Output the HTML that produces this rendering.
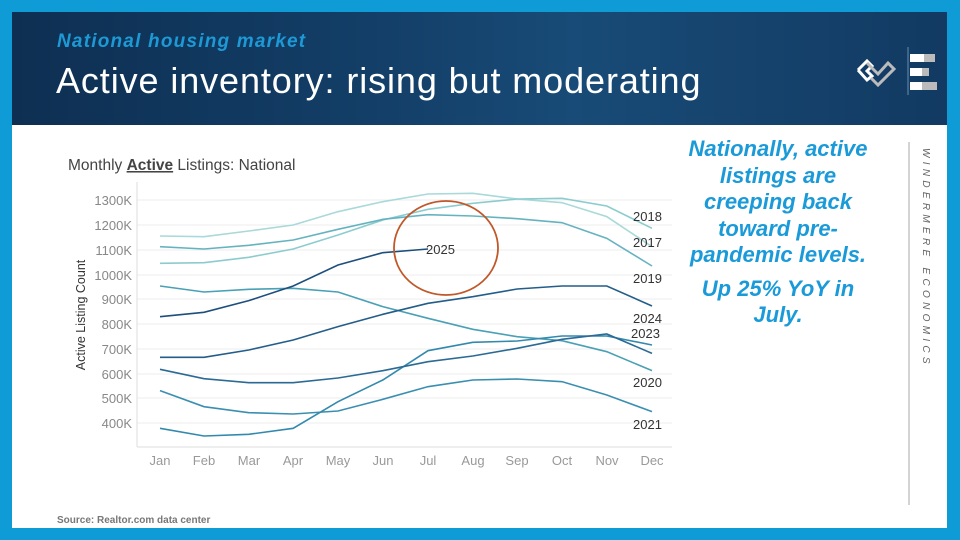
<!DOCTYPE html>
<html><head><meta charset="utf-8"><style>
html,body{margin:0;padding:0}
body{width:960px;height:540px;position:relative;background:#0e9bd6;overflow:hidden;font-family:"Liberation Sans",sans-serif}
#main{position:absolute;left:12px;top:12px;width:935px;height:516px;background:#fff}
#hdr{position:absolute;left:12px;top:12px;width:935px;height:113px;background:linear-gradient(90deg,#0e2f52 0%,#133f68 40%,#184b77 60%,#123a62 100%)}
.sub{position:absolute;left:57px;top:31px;color:#1d9ad6;font-style:italic;font-weight:bold;font-size:19px;letter-spacing:1.2px}
.ttl{position:absolute;left:56px;top:60px;color:#fff;font-size:36px;letter-spacing:0.9px}
.side{position:absolute;left:676px;top:136px;width:204px;text-align:center;color:#1a9ad8;font-weight:bold;font-style:italic;font-size:22px;line-height:26.5px}
.vt{position:absolute;left:920px;top:148px;writing-mode:vertical-rl;font-size:10px;letter-spacing:4.3px;color:#666;font-style:italic}
.src{position:absolute;left:57px;top:515px;font-size:10px;color:#777;font-weight:bold}
</style></head><body>
<div id="main"></div>
<div id="hdr"></div>
<div class="sub">National housing market</div>
<div class="ttl">Active inventory: rising but moderating</div>
<svg style="position:absolute;left:0;top:0" width="960" height="540">
<g fill="none" stroke-width="3">
<polyline points="858,70 867,61 872,66 867,71 872,76 867,80 858,70" stroke="#fff" stroke-width="3"/>
<polyline points="867,63 878,74 888,63 894,69 878,85 871,78" stroke="#bbb" stroke-width="3"/>
</g>
<line x1="908" y1="47" x2="908" y2="95" stroke="#6a8db0" stroke-width="1"/>
<rect x="910" y="54" width="25" height="8" fill="#bbb"/><rect x="910" y="54" width="14" height="8" fill="#fff"/>
<rect x="910" y="68" width="19" height="8" fill="#bbb"/><rect x="910" y="68" width="12" height="8" fill="#fff"/>
<rect x="910" y="82" width="27" height="8" fill="#bbb"/><rect x="910" y="82" width="12" height="8" fill="#fff"/>
<line x1="909" y1="142" x2="909" y2="505" stroke="#aaa" stroke-width="1"/>
<text x="68" y="170" font-size="15.5" fill="#444">Monthly <tspan font-weight="bold" text-decoration="underline">Active</tspan> Listings: National</text>
<g stroke="#eee" stroke-width="1">
<line x1="137" y1="200" x2="672" y2="200"/><line x1="137" y1="225" x2="672" y2="225"/><line x1="137" y1="250" x2="672" y2="250"/><line x1="137" y1="275" x2="672" y2="275"/><line x1="137" y1="299" x2="672" y2="299"/><line x1="137" y1="324" x2="672" y2="324"/><line x1="137" y1="349" x2="672" y2="349"/><line x1="137" y1="374" x2="672" y2="374"/><line x1="137" y1="398" x2="672" y2="398"/><line x1="137" y1="423" x2="672" y2="423"/>
<line x1="137" y1="447" x2="672" y2="447" stroke="#ddd"/><line x1="137" y1="182" x2="137" y2="447" stroke="#ddd"/>
</g>
<g font-size="13" fill="#888" text-anchor="end">
<text x="132" y="205">1300K</text><text x="132" y="230">1200K</text><text x="132" y="255">1100K</text><text x="132" y="280">1000K</text><text x="132" y="304">900K</text><text x="132" y="329">800K</text><text x="132" y="354">700K</text><text x="132" y="379">600K</text><text x="132" y="403">500K</text><text x="132" y="428">400K</text>
</g>
<text transform="translate(85,315) rotate(-90)" font-size="12.5" fill="#333" text-anchor="middle">Active Listing Count</text>
<g font-size="13" fill="#999" text-anchor="middle">
<text x="160" y="465">Jan</text><text x="204" y="465">Feb</text><text x="249" y="465">Mar</text><text x="293" y="465">Apr</text><text x="338" y="465">May</text><text x="383" y="465">Jun</text><text x="428" y="465">Jul</text><text x="473" y="465">Aug</text><text x="517" y="465">Sep</text><text x="562" y="465">Oct</text><text x="607" y="465">Nov</text><text x="652" y="465">Dec</text>
</g>
<g transform="translate(60,180) scale(0.4,0.33333)" fill="none" stroke-width="1.6">
<polyline vector-effect="non-scaling-stroke" stroke="#a9d9d9" points="250,168 360,170 472,153 583,135 695,95 807,65 920,42 1032,40 1143,57 1255,68 1367,110 1480,200"/>
<polyline vector-effect="non-scaling-stroke" stroke="#8ccccf" points="250,250 360,248 472,232 583,207 695,165 807,120 920,88 1032,70 1143,57 1255,55 1367,78 1480,145"/>
<polyline vector-effect="non-scaling-stroke" stroke="#66b3c0" points="250,200 360,207 472,196 583,180 695,148 807,118 920,104 1032,108 1143,116 1255,128 1367,175 1480,258"/>
<polyline vector-effect="non-scaling-stroke" stroke="#4aa0b5" points="250,318 360,336 472,328 583,325 695,336 807,380 920,415 1032,448 1143,470 1255,482 1367,515 1480,572"/>
<polyline vector-effect="non-scaling-stroke" stroke="#3a8fb0" points="250,632 360,680 472,698 583,702 695,693 807,658 920,620 1032,600 1143,597 1255,605 1367,645 1480,695"/>
<polyline vector-effect="non-scaling-stroke" stroke="#3389ad" points="250,745 360,768 472,763 583,745 695,665 807,600 920,512 1032,487 1143,483 1255,468 1367,468 1480,495"/>
<polyline vector-effect="non-scaling-stroke" stroke="#2a6a95" points="250,568 360,596 472,608 583,608 695,594 807,572 920,545 1032,528 1143,505 1255,478 1367,462 1480,520"/>
<polyline vector-effect="non-scaling-stroke" stroke="#235d8a" points="250,532 360,532 472,510 583,480 695,440 807,403 920,370 1032,350 1143,327 1255,318 1367,318 1480,378"/>
<polyline vector-effect="non-scaling-stroke" stroke="#1d4f7d" points="250,410 360,397 472,362 583,318 695,255 807,218 920,207"/>
</g>
<ellipse cx="446" cy="248" rx="52" ry="47" fill="none" stroke="#c0582a" stroke-width="1.8"/>
<g font-size="13" fill="#333">
<text x="426" y="254">2025</text>
<text x="633" y="221">2018</text><text x="633" y="247">2017</text><text x="633" y="283">2019</text><text x="633" y="323">2024</text><text x="631" y="338">2023</text><text x="633" y="387">2020</text><text x="633" y="429">2021</text>
</g>
</svg>
<div class="side">Nationally, active listings are creeping back toward pre-pandemic levels.<div style="margin-top:7px">Up 25% YoY in July.</div></div>
<div class="vt">WINDERMERE ECONOMICS</div>
<div class="src">Source: Realtor.com data center</div>
</body></html>
